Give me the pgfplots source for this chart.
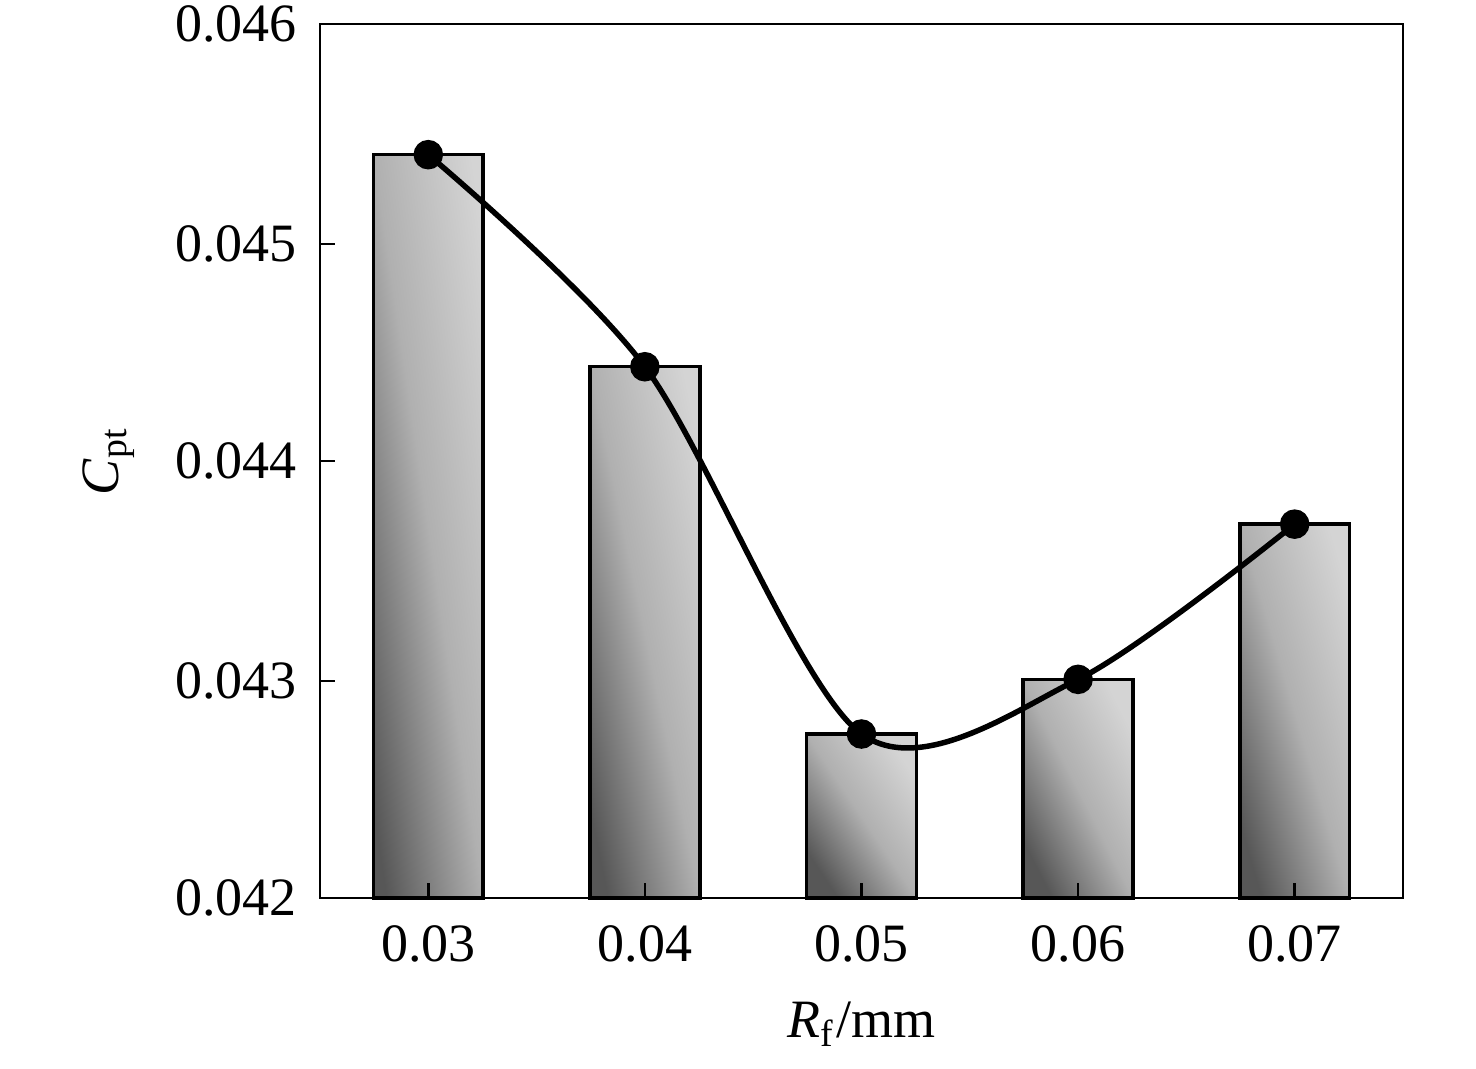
\documentclass[border=0pt]{standalone}
\usepackage{fontspec}
\setmainfont{Liberation Serif}
\usepackage{pgfplots}
\pgfplotsset{compat=1.18}
\definecolor{barlight}{gray}{0.83}
\definecolor{barmid}{gray}{0.69}
\definecolor{bardark}{gray}{0.34}
\pgfplotsset{shbar/.style={ybar, bar width=0.507, bar shift=0, draw=black, line width=0.7pt,
  bottom color=bardark, top color=barlight, middle color=barmid, forget plot}}
\begin{document}
\fontsize{10.8}{13}\selectfont
\begin{tikzpicture}
\begin{axis}[
  name=ax,
  scale only axis, width=216.6pt, height=174.8pt,
  xmin=-0.5, xmax=4.5,
  ymin=0.042, ymax=0.046,
  y coord trafo/.code={\pgfmathparse{(#1-0.042)*1000}},
  y coord inv trafo/.code={\pgfmathparse{#1/1000+0.042}},
  xtick={0,1,2,3,4}, xticklabels={0.03,0.04,0.05,0.06,0.07},
  ytick={0.042,0.043,0.044,0.045,0.046},
  yticklabels={0.042,0.043,0.044,0.045,0.046},
  xtick pos=bottom, ytick pos=left,
  tick align=inside, major tick length=3pt,
  tick style={line width=0.5pt, black},
  axis line style={line width=0.5pt},
  axis on top,
  x tick label style={font=\fontsize{10.8}{13}\selectfont, yshift=-1.8pt},
  y tick label style={font=\fontsize{10.8}{13}\selectfont, xshift=-0.8pt},
  xlabel={\textit{R}\textsubscript{f}/mm},
  ylabel={\textit{C}\textsubscript{pt}},
  xlabel style={at={(axis description cs:0.5,-0.160)}, anchor=base, font=\fontsize{10.8}{13}\selectfont},
  ylabel style={at={(axis description cs:-0.1865,0.5)}, anchor=base, rotate=0, font=\fontsize{10.8}{13}\selectfont},
  clip=false,
]
\addplot[shbar, shading angle=-81.6] coordinates {(0,0.0454)};
\addplot[shbar, shading angle=-78.3] coordinates {(1,0.04443)};
\addplot[shbar, shading angle=-56.1] coordinates {(2,0.04275)};
\addplot[shbar, shading angle=-63.2] coordinates {(3,0.0430)};
\addplot[shbar, shading angle=-73.6] coordinates {(4,0.04371)};
\addplot[smooth, line width=1.1pt, black, mark=*, mark size=2.4pt, mark options={fill=black}]
  coordinates {(0,0.0454) (1,0.04443) (2,0.04275) (3,0.0430) (4,0.04371)};
\end{axis}
\pgfresetboundingbox
\path[use as bounding box] ([shift={(-64pt,-34.2pt)}]ax.south west) rectangle ([shift={(14.6pt,4.8pt)}]ax.north east);
\end{tikzpicture}
\end{document}
